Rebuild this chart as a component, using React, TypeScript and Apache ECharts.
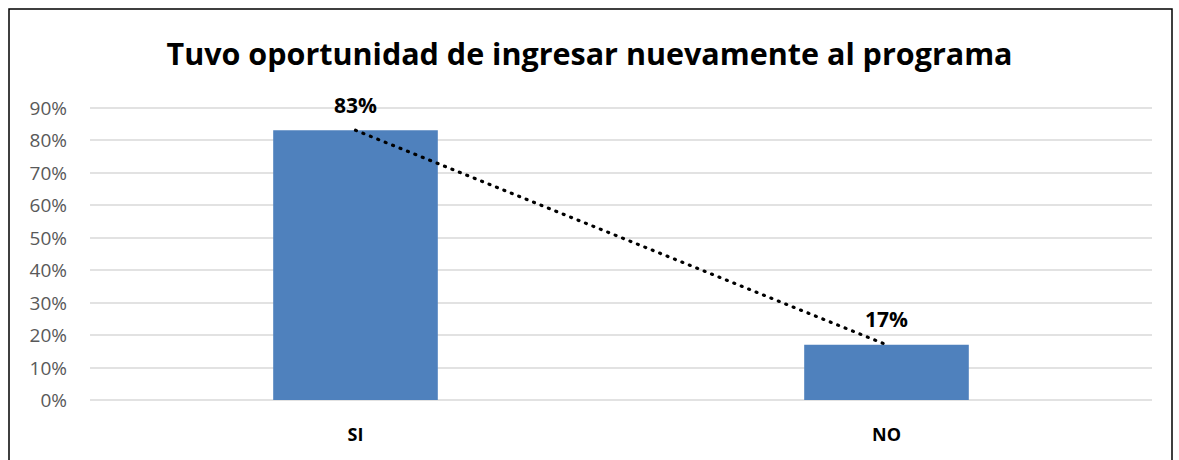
import React, { useEffect, useRef } from "react";
import * as echarts from "echarts";

const categories = ["SI", "NO"];
const values = [83, 17];
const yTicks = [0, 10, 20, 30, 40, 50, 60, 70, 80, 90];
const title = "Tuvo oportunidad de ingresar nuevamente al programa";

export default function App() {
  const ref = useRef<HTMLDivElement>(null);
  useEffect(() => {
    if (!ref.current) return;
    const chart = echarts.init(ref.current, null, { renderer: "svg" });
    chart.setOption({
      animation: false,
      backgroundColor: "#ffffff",
      title: {
        text: title,
        left: "center",
        top: 32,
        textStyle: {
          fontFamily: "Open Sans",
          fontWeight: "bold",
          fontSize: 30.5,
          color: "#000000",
        },
      },
      graphic: [
        {
          type: "rect",
          shape: { x: 9, y: 9, width: 1163, height: 480 },
          style: { fill: "none", stroke: "#000000", lineWidth: 1.5 },
          silent: true,
        },
      ],
      grid: { left: 90, right: 27, top: 107.5, bottom: 60 },
      xAxis: {
        type: "category",
        data: categories,
        axisLine: { show: false },
        axisTick: { show: false },
        axisLabel: {
          margin: 25,
          fontFamily: "Open Sans",
          fontWeight: "bold",
          fontSize: 18,
          color: "#000000",
        },
      },
      yAxis: {
        type: "value",
        min: yTicks[0],
        max: yTicks[yTicks.length - 1],
        interval: 10,
        axisLine: { show: false },
        axisTick: { show: false },
        splitLine: { lineStyle: { color: "#D9D9D9", width: 1.5 } },
        axisLabel: {
          margin: 23,
          formatter: "{value}%",
          fontFamily: "Open Sans",
          fontSize: 19,
          color: "#595959",
        },
      },
      series: [
        {
          type: "bar",
          data: values,
          barWidth: "31%",
          itemStyle: { color: "#4F81BD" },
          label: {
            show: true,
            position: "top",
            distance: 15,
            formatter: "{c}%",
            fontFamily: "Open Sans",
            fontWeight: "bold",
            fontSize: 21,
            color: "#000000",
          },
        },
        {
          type: "line",
          data: values,
          symbol: "none",
          silent: true,
          lineStyle: { color: "#000000", width: 3.2, type: [1, 7], cap: "round" },
          z: 5,
        },
      ],
    });
    return () => chart.dispose();
  }, []);
  return (
    <div
      ref={ref}
      style={{ position: "fixed", left: 0, top: 0, width: 1179, height: 460 }}
    />
  );
}
